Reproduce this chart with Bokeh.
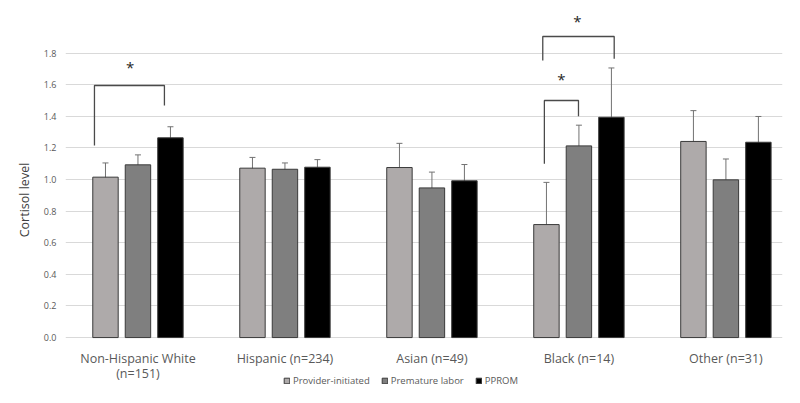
from bokeh.plotting import figure
from bokeh.models import ColumnDataSource, Range1d, FixedTicker, Whisker, TeeHead, Legend, LegendItem
from bokeh.transform import dodge
from bokeh.core.properties import value
from bokeh.embed import file_html
from bokeh.resources import INLINE

# ---- data ----
categories = ["Non-Hispanic White\n(n=151)", "Hispanic (n=234)", "Asian (n=49)", "Black (n=14)", "Other (n=31)"]
series = ["Provider-initiated", "Premature labor", "PPROM"]
provider = [1.015, 1.072, 1.076, 0.715, 1.241]
provider_se = [0.090, 0.068, 0.153, 0.267, 0.195]
premature = [1.093, 1.065, 0.947, 1.213, 0.998]
premature_se = [0.063, 0.040, 0.100, 0.131, 0.132]
pprom = [1.264, 1.078, 0.992, 1.394, 1.236]
pprom_se = [0.070, 0.048, 0.103, 0.312, 0.163]
yticks = [0.0, 0.2, 0.4, 0.6, 0.8, 1.0, 1.2, 1.4, 1.6, 1.8]
ytick_labels = ["0.0", "0.2", "0.4", "0.6", "0.8", "1.0", "1.2", "1.4", "1.6", "1.8"]

# significance brackets: group index, left x offset, right x offset, left leg bottom, top, right leg bottom
br_group = [0, 3, 3]
br_left = [-0.296, -0.235, -0.246]
br_right = [0.180, -0.003, 0.240]
br_left_bottom = [1.215, 1.10, 1.753]
br_top = [1.595, 1.50, 1.905]
br_right_bottom = [1.468, 1.40, 1.764]
star_dx = [-0.053, -0.119, -0.010]
star_y = [1.71, 1.637, 2.006]

colors = ["#aeaaaa", "#7f7f7f", "#000000"]
offsets = [-0.221, 0.0, 0.221]
bar_w = 0.173

xc = [i + 0.5 for i in range(len(categories))]

p = figure(width=784, height=387, x_range=Range1d(0.007, 4.885), y_range=Range1d(-0.316, 2.057),
           output_backend="svg", toolbar_location=None,
           min_border_left=65, min_border_right=2, min_border_top=12, min_border_bottom=0)
p.outline_line_color = None
p.background_fill_color = "white"
p.border_fill_color = "white"

renderers = []
for vals, ses, col, off in zip([provider, premature, pprom], [provider_se, premature_se, pprom_se], colors, offsets):
    src = ColumnDataSource(dict(x=xc, top=vals,
                                upper=[v + s for v, s in zip(vals, ses)],
                                lower=[v - s for v, s in zip(vals, ses)]))
    r = p.vbar(x=dodge("x", off, range=p.x_range), top="top", bottom=0, width=bar_w, source=src,
               fill_color=col, line_color="#3a3a3a", line_width=1)
    renderers.append(r)
    w = Whisker(base=dodge("x", off, range=p.x_range), upper="upper", lower="lower", source=src,
                line_color="#727272", line_width=1,
                upper_head=TeeHead(size=6, line_color="#727272", line_width=1),
                lower_head=TeeHead(size=6, line_color="#727272", line_width=1))
    p.add_layout(w)

# brackets
bxs, bys = [], []
for g, l, r_, lb, t, rb in zip(br_group, br_left, br_right, br_left_bottom, br_top, br_right_bottom):
    c = xc[g]
    bxs.append([c + l, c + l, c + r_, c + r_])
    bys.append([lb, t, t, rb])
p.multi_line(xs=bxs, ys=bys, line_color="#4a4a4a", line_width=1.3)
p.text(x=[xc[g] + d for g, d in zip(br_group, star_dx)], y=star_y, text=["*"] * len(star_y),
       text_align="center", text_baseline="middle", text_font=value("Open Sans"),
       text_font_size="15px", text_color="#262626")

# category labels (drawn inside the extended frame)
p.text(x=xc, y=[-0.076] * len(xc), text=categories, text_align="center", text_baseline="top",
       text_font=value("Open Sans"), text_font_size="12.5px", text_color="#595959",
       text_line_height=0.92)

# axes
p.xaxis.visible = False
p.yaxis.ticker = FixedTicker(ticks=yticks)
p.yaxis.major_label_overrides = {t: s for t, s in zip(yticks, ytick_labels)}
p.yaxis.axis_line_color = None
p.yaxis.major_tick_line_color = None
p.yaxis.minor_tick_line_color = None
p.yaxis.major_tick_out = 0
p.yaxis.major_tick_in = 0
p.yaxis.major_label_standoff = 9
p.yaxis.major_label_text_font = "Open Sans"
p.yaxis.major_label_text_font_size = "9px"
p.yaxis.major_label_text_color = "#595959"
p.yaxis.axis_label = "Cortisol level"
p.yaxis.axis_label_text_font = "Open Sans"
p.yaxis.axis_label_text_font_size = "12.5px"
p.yaxis.axis_label_text_font_style = "normal"
p.yaxis.axis_label_text_color = "#404040"
p.yaxis.axis_label_standoff = 8

p.xgrid.visible = False
p.ygrid.ticker = FixedTicker(ticks=yticks)
p.ygrid.grid_line_color = "#d9d9d9"
p.ygrid.grid_line_width = 1

legend = Legend(items=[LegendItem(label=s, renderers=[r]) for s, r in zip(series, renderers)],
                location=(218, 0), orientation="horizontal",
                border_line_color=None, background_fill_alpha=0, padding=0, margin=0,
                spacing=11, label_standoff=3, glyph_width=7, glyph_height=7,
                label_height=10, label_text_font="Open Sans", label_text_font_size="9.5px",
                label_text_color="#595959")
p.add_layout(legend, "center")

open("out.html", "w").write(file_html(p, INLINE))
